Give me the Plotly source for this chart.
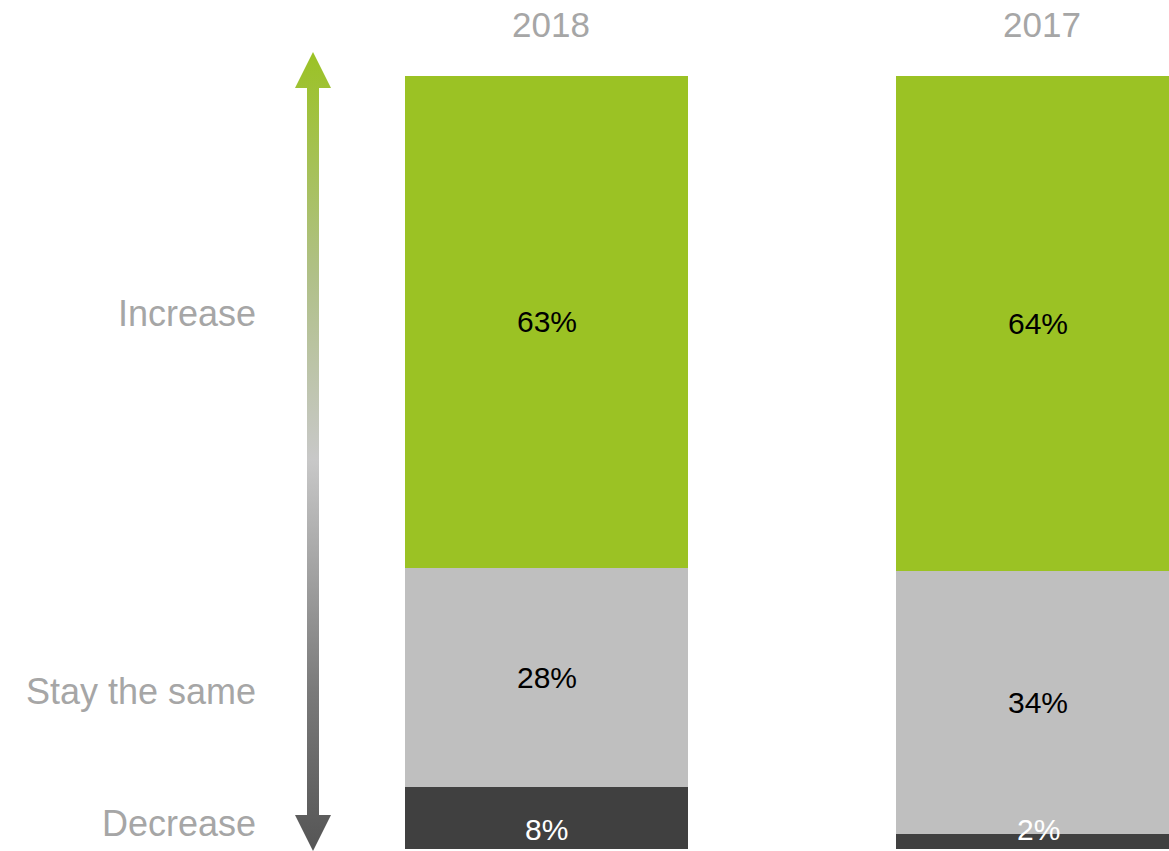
import plotly.graph_objects as go

# Survey answers per year (percent of respondents)
years = ["2018", "2017"]
increase = [63, 64]
stay_same = [28, 34]
decrease = [8, 2]

series_names = ["Decrease", "Stay the same", "Increase"]
series_values = [decrease, stay_same, increase]
series_colors = ["#404040", "#bfbfbf", "#9bc224"]
label_colors = ["#ffffff", "#000000", "#000000"]

W, H = 1169, 851
GRAY_TEXT = "#a6a6a6"
FONT = "Liberation Sans, Arial, sans-serif"

fig = go.Figure()

for name, vals, col in zip(series_names, series_values, series_colors):
    fig.add_trace(go.Bar(
        x=years, y=vals, name=name,
        marker=dict(color=col, line=dict(width=0)),
        width=0.576,
        hoverinfo="skip",
        xaxis="x", yaxis="y",
    ))

# Value labels placed at the middle of each normalized segment
annotations = []
for i, yr in enumerate(years):
    total = sum(v[i] for v in series_values)
    base = 0.0
    for k, (vals, tcol) in enumerate(zip(series_values, label_colors)):
        share = vals[i] / total * 100
        if k == 0:
            # bottom segment: label sits on the baseline
            annotations.append(dict(
                x=i, y=0, xref="x", yref="y", text=f"{vals[i]}%",
                showarrow=False, xanchor="center", yanchor="bottom", yshift=1,
                font=dict(family=FONT, size=30, color=tcol)))
        else:
            annotations.append(dict(
                x=i, y=base + share / 2, xref="x", yref="y", text=f"{vals[i]}%",
                showarrow=False, xanchor="center", yanchor="middle",
                font=dict(family=FONT, size=30, color=tcol)))
        base += share

# Double-headed gradient arrow drawn on a pixel-space axis pair
ax, shaft, head = 313, 6, 18
tip_top, base_top, base_bot, tip_bot = 52, 88, 815, 851
arrow_x = [ax, ax + head, ax + shaft, ax + shaft, ax + head, ax,
           ax - head, ax - shaft, ax - shaft, ax - head, ax]
arrow_y = [tip_top, base_top, base_top, base_bot, base_bot, tip_bot,
           base_bot, base_bot, base_top, base_top, tip_top]
fig.add_trace(go.Scatter(
    x=arrow_x, y=arrow_y, mode="lines", fill="toself",
    line=dict(width=0, color="rgba(0,0,0,0)"),
    fillgradient=dict(
        type="vertical", start=tip_top, stop=tip_bot,
        colorscale=[[0, "#9bc224"], [0.28, "#b0c088"], [0.51, "#c8c8c8"],
                    [0.8, "#7a7a7a"], [1, "#555555"]],
    ),
    hoverinfo="skip", showlegend=False,
    xaxis="x2", yaxis="y2",
))

# Year headers
for i, yr in enumerate(years):
    annotations.append(dict(
        x=i, y=(H - 25) / H, xref="x", yref="paper", text=yr,
        showarrow=False, yanchor="middle", xanchor="center", xshift=4,
        font=dict(family=FONT, size=35, color=GRAY_TEXT)))

# Category labels beside the arrow
cat_labels = [("Increase", 313), ("Stay the same", 691), ("Decrease", 823)]
for txt, py in cat_labels:
    annotations.append(dict(
        x=258 / W, y=(H - py) / H, xref="paper", yref="paper", text=txt,
        showarrow=False, xanchor="right", yanchor="middle",
        font=dict(family=FONT, size=36, color=GRAY_TEXT)))

fig.update_layout(
    width=W, height=H,
    margin=dict(l=0, r=0, t=0, b=0),
    paper_bgcolor="white", plot_bgcolor="rgba(0,0,0,0)",
    barmode="stack", barnorm="percent",
    showlegend=False,
    xaxis=dict(type="category", range=[-1.112, 1.2665], domain=[0, 1],
               anchor="y", visible=False, fixedrange=True),
    yaxis=dict(range=[0, 100], domain=[2 / H, 775 / H], anchor="x",
               visible=False, fixedrange=True),
    xaxis2=dict(range=[0, W], domain=[0, 1], anchor="y2", visible=False,
                fixedrange=True),
    yaxis2=dict(range=[H, 0], domain=[0, 1], anchor="x2", visible=False,
                fixedrange=True),
    annotations=annotations,
)

fig.write_html("out.html")
